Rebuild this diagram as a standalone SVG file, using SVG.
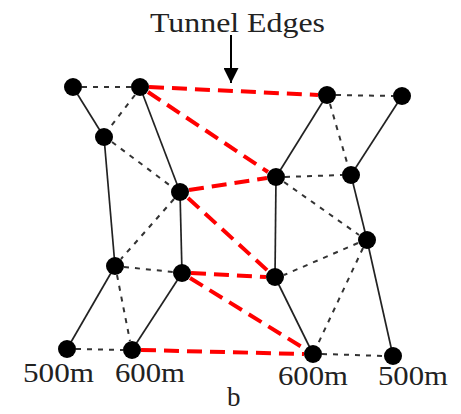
<svg xmlns="http://www.w3.org/2000/svg" width="461" height="414" viewBox="0 0 461 414">
<defs>
<style>
.s{stroke:#222;stroke-width:1.7;fill:none}
.d{stroke:#333;stroke-width:2;stroke-dasharray:5 6;fill:none}
.r{stroke:#ff0000;stroke-width:4;stroke-dasharray:15 8;fill:none}
.n{fill:#000}
.t{font-family:"Liberation Serif",serif;fill:#222;font-size:27px}
</style>
<marker id="ah" viewBox="0 0 10 10" refX="10" refY="5" markerWidth="18" markerHeight="15" markerUnits="userSpaceOnUse" orient="auto"><path d="M0,0L10,5L0,10z" fill="#000"/></marker>
</defs>
<rect width="461" height="414" fill="#fff"/>
<g id="connectors">
<line class="s" x1="73" y1="87" x2="104" y2="137"/>
<line class="s" x1="104" y1="137" x2="115" y2="266"/>
<line class="s" x1="115" y1="266" x2="67" y2="349"/>
<line class="s" x1="140" y1="87" x2="180" y2="192"/>
<line class="s" x1="180" y1="192" x2="182" y2="273"/>
<line class="s" x1="182" y1="273" x2="132" y2="350"/>
<line class="s" x1="327" y1="95" x2="276" y2="177"/>
<line class="s" x1="276" y1="177" x2="275" y2="277"/>
<line class="s" x1="275" y1="277" x2="313" y2="354"/>
<line class="s" x1="402" y1="96" x2="351" y2="175"/>
<line class="s" x1="351" y1="175" x2="367" y2="240"/>
<line class="s" x1="367" y1="240" x2="393" y2="356"/>
<line class="d" x1="82" y1="87" x2="131" y2="87"/>
<line class="d" x1="336" y1="95" x2="393" y2="96"/>
<line class="d" x1="76" y1="349" x2="123" y2="350"/>
<line class="d" x1="322" y1="354" x2="384" y2="356"/>
<line class="d" x1="135" y1="95" x2="108" y2="130"/>
<line class="d" x1="112" y1="142" x2="172" y2="187"/>
<line class="d" x1="174" y1="199" x2="121" y2="259"/>
<line class="d" x1="124" y1="267" x2="173" y2="272"/>
<line class="d" x1="117" y1="275" x2="130" y2="341"/>
<line class="d" x1="330" y1="104" x2="348" y2="166"/>
<line class="d" x1="285" y1="177" x2="342" y2="175"/>
<line class="d" x1="284" y1="182" x2="359" y2="235"/>
<line class="d" x1="358" y1="243" x2="284" y2="275"/>
<line class="d" x1="363" y1="248" x2="317" y2="346"/>
<line class="r" x1="149" y1="87" x2="318" y2="95"/>
<line class="r" x1="148" y1="92" x2="268" y2="172"/>
<line class="r" x1="189" y1="190" x2="267" y2="178"/>
<line class="r" x1="188" y1="198" x2="268" y2="271"/>
<line class="r" x1="191" y1="273" x2="266" y2="277"/>
<line class="r" x1="190" y1="278" x2="305" y2="349"/>
<line class="r" x1="141" y1="350" x2="304" y2="354"/>
<line stroke="#000" stroke-width="2" x1="231" y1="35" x2="231" y2="83" marker-end="url(#ah)"/>
</g>
<g id="nA"><circle class="n" cx="73" cy="87" r="9"/></g>
<g id="nB"><circle class="n" cx="140" cy="87" r="9"/></g>
<g id="nC"><circle class="n" cx="327" cy="95" r="9"/></g>
<g id="nD"><circle class="n" cx="402" cy="96" r="9"/></g>
<g id="nE"><circle class="n" cx="104" cy="137" r="9"/></g>
<g id="nF"><circle class="n" cx="180" cy="192" r="9"/></g>
<g id="nG"><circle class="n" cx="276" cy="177" r="9"/></g>
<g id="nH"><circle class="n" cx="351" cy="175" r="9"/></g>
<g id="nI"><circle class="n" cx="367" cy="240" r="9"/></g>
<g id="nJ"><circle class="n" cx="115" cy="266" r="9"/></g>
<g id="nK"><circle class="n" cx="182" cy="273" r="9"/></g>
<g id="nL"><circle class="n" cx="275" cy="277" r="9"/></g>
<g id="nM"><circle class="n" cx="67" cy="349" r="9"/></g>
<g id="nN"><circle class="n" cx="132" cy="350" r="9"/></g>
<g id="nO"><circle class="n" cx="313" cy="354" r="9"/></g>
<g id="nP"><circle class="n" cx="393" cy="356" r="9"/></g>
<g id="labels">
<text class="t" x="150" y="32" textLength="175" lengthAdjust="spacingAndGlyphs">Tunnel Edges</text>
<text class="t" x="23" y="382" textLength="71" lengthAdjust="spacingAndGlyphs">500m</text>
<text class="t" x="115" y="382" textLength="70" lengthAdjust="spacingAndGlyphs">600m</text>
<text class="t" x="278" y="385" textLength="70" lengthAdjust="spacingAndGlyphs">600m</text>
<text class="t" x="378" y="385" textLength="70" lengthAdjust="spacingAndGlyphs">500m</text>
<text class="t" x="227" y="406">b</text>
</g>
</svg>
